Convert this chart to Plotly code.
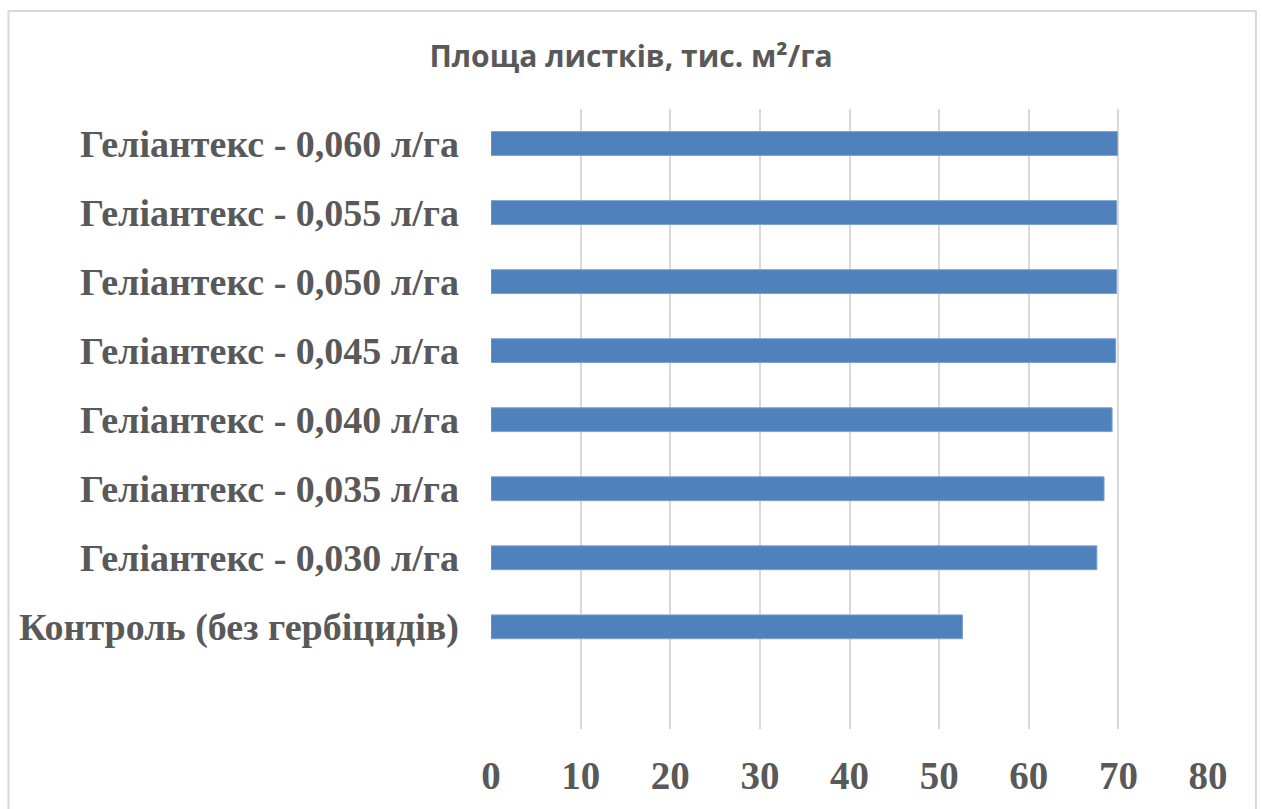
import plotly.graph_objects as go

categories = [
    "Контроль (без гербіцидів)",
    "Геліантекс - 0,030 л/га",
    "Геліантекс - 0,035 л/га",
    "Геліантекс - 0,040 л/га",
    "Геліантекс - 0,045 л/га",
    "Геліантекс - 0,050 л/га",
    "Геліантекс - 0,055 л/га",
    "Геліантекс - 0,060 л/га",
]
values = [52.6, 67.6, 68.4, 69.3, 69.7, 69.8, 69.8, 69.9]
x_ticks = [0, 10, 20, 30, 40, 50, 60, 70, 80]
title_text = "Площа листків, тис. м²/га"

W, H = 1262, 809
L, R, T, B = 490.7, 1208.0, 109.0, 735.0

fig = go.Figure()
fig.add_trace(go.Bar(
    y=categories, x=values, orientation="h",
    width=0.345,
    marker=dict(color="#4F81BD", line=dict(color="#7BA0D2", width=1)),
    hoverinfo="x+y",
))

def px_x(p):
    return (p - L) / (R - L)

def px_y(p):
    return (B - p) / (B - T)

fig.add_shape(type="rect", xref="paper", yref="paper",
              x0=px_x(8), x1=px_x(1256), y0=px_y(830), y1=px_y(10),
              line=dict(color="#D9D9D9", width=2), fillcolor="rgba(0,0,0,0)",
              layer="below")

fig.update_layout(
    width=W, height=H,
    margin=dict(l=L, r=W - R, t=T, b=H - B, pad=0),
    paper_bgcolor="white", plot_bgcolor="white",
    showlegend=False,
    bargap=0.5,
    title=dict(text=title_text, x=0.5, xanchor="center", y=1 - 56 / H, yanchor="middle",
               font=dict(family="Open Sans", size=30, color="#595959", weight="bold")),
    xaxis=dict(range=[0, 80], tickvals=x_ticks, showgrid=True, gridcolor="#D9D9D9",
               gridwidth=1.5, zeroline=False, showline=False, ticks="",
               tickfont=dict(family="Liberation Serif", size=39, color="#595959", weight="bold"),
               ticklabelstandoff=20, fixedrange=True),
    yaxis=dict(categoryorder="array", categoryarray=categories, range=[-1.48, 7.5],
               showgrid=False, zeroline=False, showline=False, ticks="",
               tickfont=dict(family="Liberation Serif", size=38, color="#595959", weight="bold"),
               ticklabelstandoff=31, fixedrange=True),
)

fig.write_html("out.html")
